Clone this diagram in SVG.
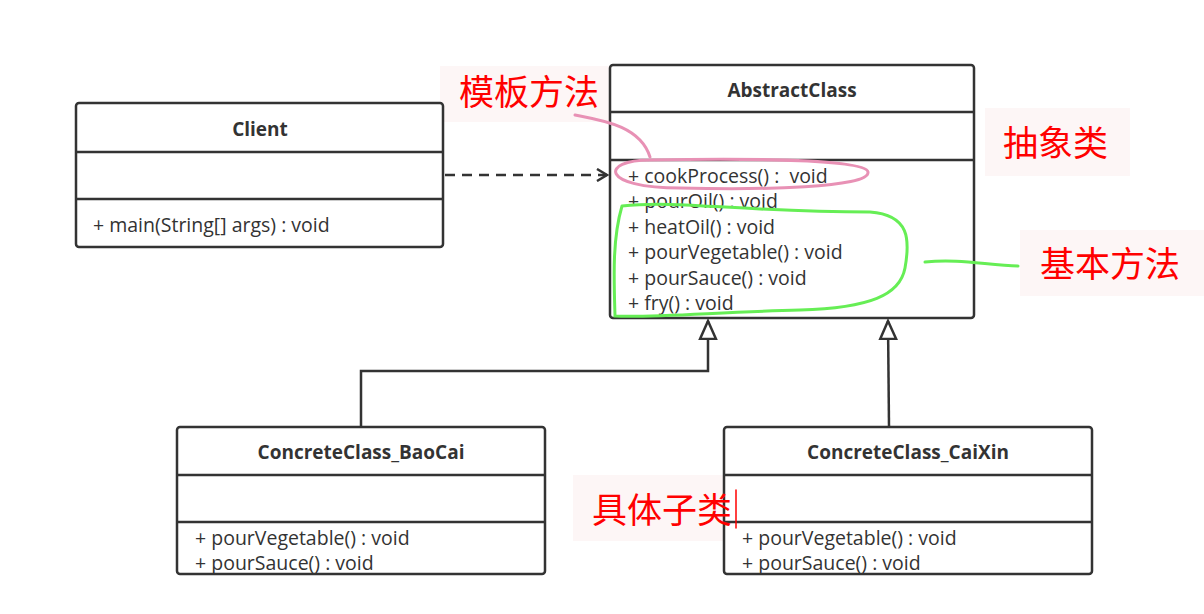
<svg xmlns="http://www.w3.org/2000/svg" width="1204" height="614" viewBox="0 0 1204 614">
<style>
.box{fill:#fff;stroke:#333;stroke-width:2.5}
.ln{stroke:#333;stroke-width:2.5}
.t{font-family:"Open Sans","Liberation Sans",sans-serif;font-size:19.5px;fill:#333}
.b{font-family:"Open Sans","Liberation Sans",sans-serif;font-size:19px;font-weight:bold;fill:#333;text-anchor:middle}
.r{font-family:"Noto Sans CJK SC",sans-serif;font-size:35px;fill:#f00}
.bg{fill:#fdf6f6}
</style>
<defs>
<marker id="open" markerWidth="14" markerHeight="14" refX="12" refY="7" orient="auto" markerUnits="userSpaceOnUse"><path d="M2,1 L12,7 L2,13" fill="none" stroke="#333" stroke-width="2.5"/></marker>
<marker id="tri" markerWidth="22" markerHeight="20" refX="19" refY="10" orient="auto" markerUnits="userSpaceOnUse"><path d="M19,10 L1,2 L1,18 Z" fill="#fff" stroke="#333" stroke-width="2.5"/></marker>
</defs>
<rect width="1204" height="614" fill="#fff"/>
<g id="bg-annot">
<rect class="bg" x="440" y="66" width="170" height="56"/>
<rect class="bg" x="985" y="108" width="145" height="68"/>
<rect class="bg" x="1020" y="230" width="184" height="66"/>
<rect class="bg" x="573" y="475" width="177" height="66"/>
</g>
<g id="client">
<rect class="box" x="76" y="103" width="367" height="144" rx="3"/>
<line class="ln" x1="76" y1="152" x2="443" y2="152"/><line class="ln" x1="76" y1="199" x2="443" y2="199"/>
<text class="b" x="260" y="136">Client</text>
<text class="t" x="93" y="232">+ main(String[] args) : void</text>
</g>
<g id="abstract">
<rect class="box" x="610" y="65" width="364" height="253" rx="3"/>
<line class="ln" x1="610" y1="112" x2="974" y2="112"/><line class="ln" x1="610" y1="160" x2="974" y2="160"/>
<text class="b" x="792" y="97">AbstractClass</text>
<text class="t" x="628" y="183" xml:space="preserve">+ cookProcess() :  void</text>
<text class="t" x="628" y="208">+ pourOil() : void</text>
<text class="t" x="628" y="234">+ heatOil() : void</text>
<text class="t" x="628" y="259">+ pourVegetable() : void</text>
<text class="t" x="628" y="285">+ pourSauce() : void</text>
<text class="t" x="628" y="310">+ fry() : void</text>
</g>
<g id="baocai">
<rect class="box" x="177" y="427" width="368" height="147" rx="3"/>
<line class="ln" x1="177" y1="475" x2="545" y2="475"/><line class="ln" x1="177" y1="522" x2="545" y2="522"/>
<text class="b" x="361" y="459">ConcreteClass_BaoCai</text>
<text class="t" x="195" y="545">+ pourVegetable() : void</text>
<text class="t" x="195" y="570">+ pourSauce() : void</text>
</g>
<g id="caixin">
<rect class="box" x="724" y="427" width="368" height="147" rx="3"/>
<line class="ln" x1="724" y1="475" x2="1092" y2="475"/><line class="ln" x1="724" y1="522" x2="1092" y2="522"/>
<text class="b" x="908" y="459">ConcreteClass_CaiXin</text>
<text class="t" x="742" y="545">+ pourVegetable() : void</text>
<text class="t" x="742" y="570">+ pourSauce() : void</text>
</g>
<g id="connectors" fill="none">
<line class="ln" x1="445" y1="175" x2="607" y2="175" stroke-dasharray="10,7" marker-end="url(#open)"/>
<polyline class="ln" points="361,427 361,371 708,371 708,321" marker-end="url(#tri)"/>
<line class="ln" x1="889" y1="427" x2="888" y2="321" marker-end="url(#tri)"/>
</g>
<g id="annotations" fill="none" stroke-linecap="round">
<path d="M575,115 C600,120 640,125 650,157" stroke="#e891b5" stroke-width="3"/>
<path d="M650,160 C600,160 600,188 680,188 C760,190 870,188 868,172 C866,160 760,158 650,160" stroke="#e891b5" stroke-width="3"/>
<path d="M622,206 C680,200 740,212 870,212 C910,215 910,240 905,268 C900,295 870,308 800,310 C720,312 650,318 615,316 C614,280 612,240 622,206" stroke="#66ee55" stroke-width="3"/>
<path d="M925,262 C960,258 990,266 1018,266" stroke="#66ee55" stroke-width="3"/>
<line x1="736" y1="490" x2="736" y2="528" stroke="#f00" stroke-width="1.5"/>
</g>
<g id="labels">
<text class="r" x="459" y="105">模板方法</text>
<text class="r" x="1003" y="156">抽象类</text>
<text class="r" x="1040" y="277">基本方法</text>
<text class="r" x="592" y="523">具体子类</text>
</g>
</svg>
